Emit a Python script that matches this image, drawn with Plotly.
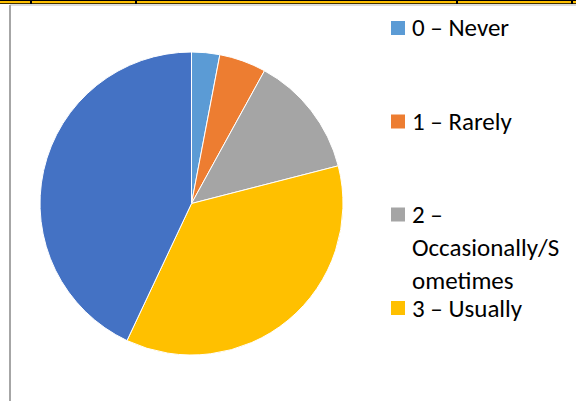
import plotly.graph_objects as go

W, H = 576, 401

labels = ["0 – Never", "1 – Rarely", "2 – Occasionally/Sometimes", "3 – Usually", "4 – Always"]
values = [3, 5, 13, 36, 43]
colors = ["#5B9BD5", "#ED7D31", "#A5A5A5", "#FFC000", "#4472C4"]


def px(x):
    return x / W


def py(y):
    return 1 - y / H


def wrap(label, width=14):
    lines, cur = [], ""
    for word in label.split(" "):
        cand = (cur + " " + word).strip()
        if len(cand) <= width:
            cur = cand
            continue
        if cur:
            lines.append(cur)
            cur = ""
        while len(word) > width:
            lines.append(word[:width])
            word = word[width:]
        cur = word
    if cur:
        lines.append(cur)
    return lines


cx, cy, r = 191.5, 203.5, 151.5

fig = go.Figure(go.Pie(
    labels=labels,
    values=values,
    marker=dict(colors=colors, line=dict(color="white", width=1)),
    sort=False,
    direction="clockwise",
    rotation=0,
    textinfo="none",
    hoverinfo="label+percent",
    showlegend=False,
    domain=dict(x=[px(cx - r), px(cx + r)], y=[py(cy + r), py(cy - r)]),
))

shapes = []
annotations = []

# document frame lines (top border and left rule)
shapes.append(dict(type="rect", xref="paper", yref="paper", x0=0, x1=1, y0=py(4), y1=1,
                   fillcolor="black", line=dict(width=0), layer="above"))
shapes.append(dict(type="rect", xref="paper", yref="paper", x0=0, x1=1, y0=py(3.2), y1=py(1),
                   fillcolor="#FFC000", line=dict(width=0), layer="above"))
for tx in [31, 136, 457, 572]:
    shapes.append(dict(type="rect", xref="paper", yref="paper", x0=px(tx - 1), x1=px(tx + 1),
                       y0=py(4), y1=1, fillcolor="black", line=dict(width=0), layer="above"))
shapes.append(dict(type="line", xref="paper", yref="paper", x0=px(10), x1=1, y0=py(5), y1=py(5),
                   line=dict(color="#D0D0D0", width=1.5)))
shapes.append(dict(type="line", xref="paper", yref="paper", x0=px(10), x1=px(10), y0=0, y1=py(5),
                   line=dict(color="#A6A6A6", width=2)))

# manual legend (Excel-style, last entry cut off by the frame)
legend_y = [28, 121.5, 214.5, 308]
line_gap = 33
font = dict(family="Carlito, Calibri, Lato, sans-serif", size=25, color="black")
for lab, col, ly in zip(labels, colors, legend_y):
    shapes.append(dict(type="rect", xref="paper", yref="paper",
                       x0=px(391), x1=px(405), y0=py(ly + 7), y1=py(ly - 7),
                       fillcolor=col, line=dict(width=0)))
    for i, line in enumerate(wrap(lab)):
        annotations.append(dict(text=line, xref="paper", yref="paper",
                                x=px(410), y=py(ly + i * line_gap),
                                xanchor="left", yanchor="middle", showarrow=False,
                                font=font))

fig.update_layout(
    width=W, height=H,
    margin=dict(l=0, r=0, t=0, b=0),
    paper_bgcolor="white",
    plot_bgcolor="white",
    shapes=shapes,
    annotations=annotations,
)

fig.write_html("out.html", config={"displayModeBar": False},
               post_script="document.body.style.margin='0';")
